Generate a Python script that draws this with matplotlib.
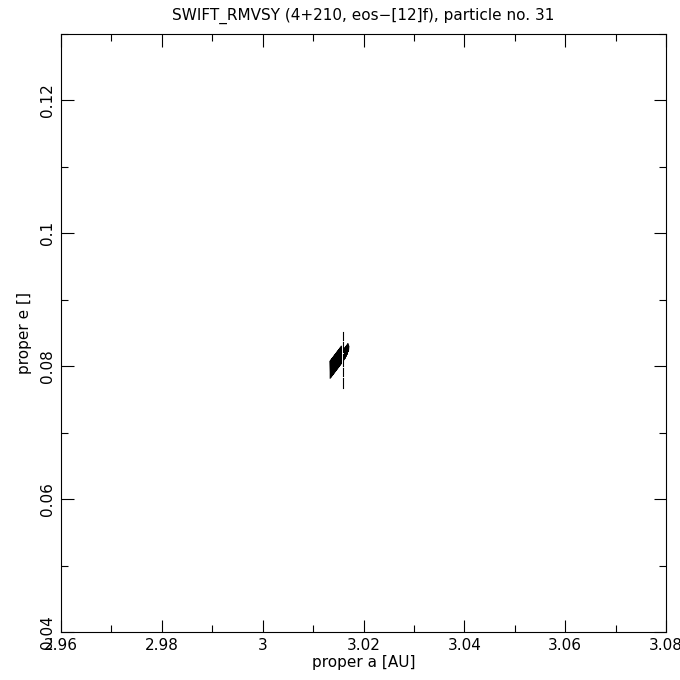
import numpy as np
import matplotlib
matplotlib.use("Agg")
import matplotlib.pyplot as plt
from matplotlib.ticker import MultipleLocator, FuncFormatter

title = "SWIFT_RMVSY (4+210, eos\u2212[12]f), particle no. 31"
xlabel = "proper a [AU]"
ylabel = "proper e []"

# main librating trajectory (proper a, proper e)
traj_a = [3.0134, 3.0134, 3.0135, 3.0135, 3.0136, 3.0136, 3.0137, 3.0137,
          3.0138, 3.0138, 3.0139, 3.0139, 3.0140, 3.0140, 3.0141, 3.0141,
          3.0142, 3.0142, 3.0143, 3.0143, 3.0144, 3.0144, 3.0145, 3.0145,
          3.0146, 3.0146, 3.0147, 3.0147, 3.0148, 3.0148, 3.0149, 3.0149,
          3.0150, 3.0150, 3.0151, 3.0151, 3.0152, 3.0152, 3.0153, 3.0153,
          3.0154, 3.0154, 3.0155, 3.0155, 3.0156, 3.0156]
traj_e = [0.0782, 0.0808, 0.0783, 0.0809, 0.0784, 0.0810, 0.0785, 0.0811,
          0.0786, 0.0812, 0.0787, 0.0813, 0.0788, 0.0814, 0.0789, 0.0815,
          0.0790, 0.0816, 0.0791, 0.0817, 0.0792, 0.0818, 0.0793, 0.0819,
          0.0794, 0.0820, 0.0795, 0.0821, 0.0796, 0.0822, 0.0797, 0.0823,
          0.0798, 0.0824, 0.0799, 0.0825, 0.0800, 0.0826, 0.0801, 0.0827,
          0.0802, 0.0828, 0.0803, 0.0829, 0.0804, 0.0830]

# small excursion to the right of the vertical streak
side_a = [3.0162, 3.0163, 3.0164, 3.0165, 3.0166, 3.0167, 3.0168, 3.0169, 3.0170, 3.0171]
side_e = [0.0810, 0.0828, 0.0812, 0.0830, 0.0815, 0.0832, 0.0818, 0.0834, 0.0822, 0.0830]

# dashed vertical streak (segments separated by NaN)
streak_a = [3.0159, 3.0159, np.nan, 3.0159, 3.0159, np.nan, 3.0159, 3.0159, np.nan,
            3.0159, 3.0159, np.nan, 3.0159, 3.0159]
streak_e = [0.0851, 0.0840, np.nan, 0.0837, 0.0822, np.nan, 0.0819, 0.0800, np.nan,
            0.0797, 0.0785, np.nan, 0.0782, 0.0767]

fig = plt.figure(figsize=(6.8, 6.8), dpi=100)
ax = fig.add_axes([61/680, 48/680, 605/680, 598/680])

ax.plot(traj_a, traj_e, color="black", lw=0.8)
ax.plot(side_a, side_e, color="black", lw=0.8)
ax.plot(streak_a, streak_e, color="black", lw=0.8)

ax.set_xlim(2.96, 3.08)
ax.set_ylim(0.04, 0.13)
ax.xaxis.set_major_locator(MultipleLocator(0.02))
ax.xaxis.set_minor_locator(MultipleLocator(0.01))
ax.yaxis.set_major_locator(MultipleLocator(0.02))
ax.yaxis.set_minor_locator(MultipleLocator(0.01))
fmt = FuncFormatter(lambda v, p: ("%.2f" % v).rstrip("0").rstrip("."))
ax.xaxis.set_major_formatter(fmt)
ax.yaxis.set_major_formatter(fmt)

ax.tick_params(which="both", direction="in", top=True, right=True, width=0.8, color="black")
ax.tick_params(which="major", length=9, labelsize=11, pad=4)
ax.tick_params(which="minor", length=5)
for lab in ax.get_yticklabels():
    lab.set_rotation(90)
    lab.set_va("center")
for s in ax.spines.values():
    s.set_linewidth(0.8)

ax.set_title(title, fontsize=11, pad=10)
ax.set_xlabel(xlabel, fontsize=11, labelpad=2)
ax.set_ylabel(ylabel, fontsize=11, labelpad=6)

fig.savefig("out.png", dpi=100)
